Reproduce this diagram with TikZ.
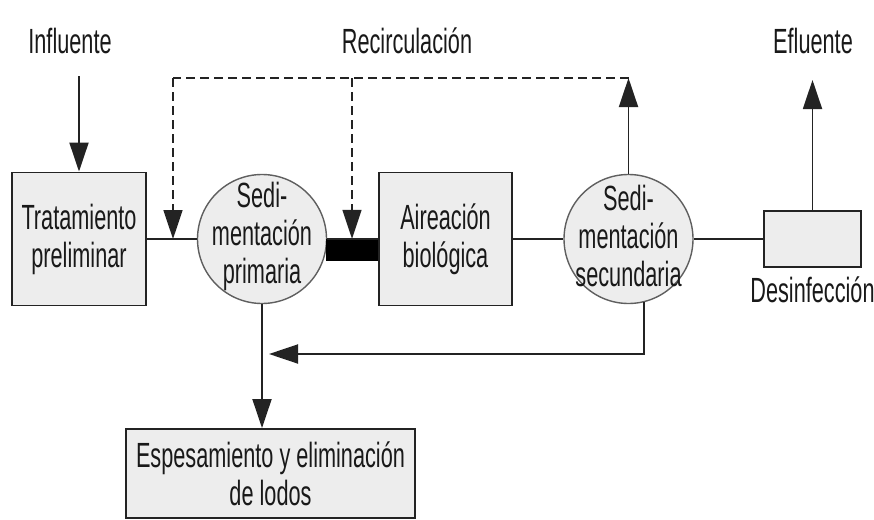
\documentclass[tikz,border=0pt]{standalone}
\usepackage{fontspec}
\newfontfamily\cond[FakeStretch=0.62]{Liberation Sans}
\usetikzlibrary{arrows.meta,calc}
\definecolor{boxfill}{RGB}{237,237,237}
\definecolor{edgegray}{RGB}{35,35,35}
\definecolor{circgray}{RGB}{95,95,95}
\begin{document}
\begin{tikzpicture}[x=1pt,y=-1pt,
  lbl/.style={font=\cond\fontsize{35}{38}\selectfont, inner sep=0pt, align=center, text=black!90},
  boxnode/.style={draw=edgegray, fill=boxfill, line width=1.9pt, inner sep=0pt},
  circnode/.style={circle, draw=circgray, fill=boxfill, line width=1.4pt, inner sep=0pt, minimum size=129pt},
  ln/.style={draw=edgegray, line width=1.9pt},
  arr/.style={ln, -{Triangle[length=29pt,width=19pt]}},
  dashln/.style={draw=edgegray, line width=1.6pt, dash pattern=on 9pt off 5pt},
]
\useasboundingbox (0,0) rectangle (874,519);

% main nodes
\node[boxnode, minimum width=134pt, minimum height=133pt, lbl] (trat) at (79,239) {Tratamiento\\preliminar};
\node[circnode] (sed1) at (262,239) {};
\node[lbl] (t1) at (262,236) {Sedi-\\mentación\\primaria};
\node[fill=black, inner sep=0pt, minimum width=53pt, minimum height=22pt] (bar) at (352.5,250) {};
\node[boxnode, minimum width=133pt, minimum height=133pt, lbl] (aire) at (445.5,239) {Aireación\\biológica};
\node[circnode] (sed2) at (628.5,239) {};
\node[lbl] (t2) at (628.5,236) {Sedi-\\mentación\\secundaria};
\node[boxnode, minimum width=97pt, minimum height=56pt] (des) at (812.5,239) {};
\node[lbl, anchor=base] (ldes) at (812.5,302) {Desinfección};
\node[boxnode, minimum width=289pt, minimum height=89pt, lbl] (esp) at (270.5,473.5) {Espesamiento y eliminación\\de lodos};

% top labels
\node[lbl, anchor=base] (linf) at (70,53) {Influente};
\node[lbl, anchor=base] (lrec) at (407,53) {Recirculación};
\node[lbl, anchor=base] (lefl) at (813,53) {Efluente};

% coordinates
\coordinate (inn) at (79,76);
\coordinate (rleft) at (173,78);
\coordinate (rmid) at (352,78);
\coordinate (rtop) at (628.5,78);
\coordinate (eout) at (812.5,80);
\coordinate (ret) at (269,354);

% main line
\draw[ln] (trat.east) -- (sed1.west);
\draw[ln] (sed1.east) -- (aire.west);
\draw[ln] (aire.east) -- (sed2.west);
\draw[ln] (sed2.east) -- (des.west);

% arrows
\draw[arr] (inn) -- (trat.north);
\draw[arr] (sed2.north) -- (rtop);
\draw[arr] (des.north) -- (eout);
\draw[arr] (sed1.south) -- (sed1.south |- esp.north);
\draw[arr] (sed2.-76) |- (ret);

% recirculation (dashed)
\draw[dashln] (rtop) -- (rleft);
\draw[dashln, -{Triangle[length=29pt,width=19pt]}] (rleft) -- (rleft |- trat.east);
\draw[dashln, -{Triangle[length=29pt,width=19pt]}] (rmid) -- (rmid |- bar.north);
\end{tikzpicture}
\end{document}
